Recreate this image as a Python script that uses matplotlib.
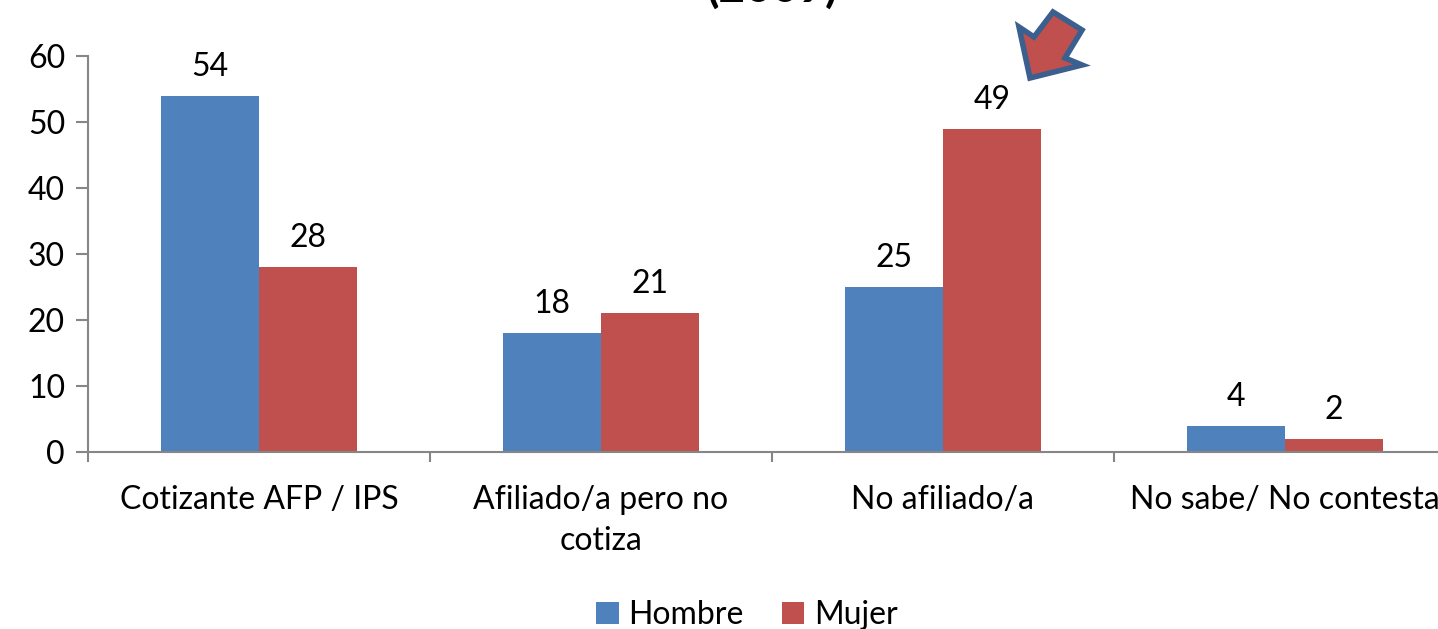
import matplotlib
matplotlib.use("Agg")
import matplotlib.pyplot as plt
from matplotlib.patches import Polygon
import numpy as np

categories = ["Cotizante AFP / IPS", "Afiliado/a pero no\ncotiza", "No afiliado/a", "No sabe/ No contesta"]
hombre = [54, 18, 25, 4]
mujer = [28, 21, 49, 2]
series_names = ["Hombre", "Mujer"]
title_text = "(2009)"
yticks = [0, 10, 20, 30, 40, 50, 60]

blue = "#4F81BD"
red = "#C0504D"
axis_col = "#868686"
FONT = "Lato"
FS = 23

W, H = 1438, 629
fig = plt.figure(figsize=(W / 100, H / 100), dpi=100)
ax = fig.add_axes([88 / W, (H - 452) / H, 1368 / W, 396 / H])

x = np.arange(len(categories))
bw = 0.286
b1 = ax.bar(x - bw / 2, hombre, bw, color=blue, label=series_names[0])
b2 = ax.bar(x + bw / 2, mujer, bw, color=red, label=series_names[1])

for bars in (b1, b2):
    for rect in bars:
        h = rect.get_height()
        ax.annotate(f"{h:g}", (rect.get_x() + rect.get_width() / 2, h),
                    xytext=(0, 14), textcoords="offset pixels",
                    ha="center", va="bottom", fontsize=FS, family=FONT, color="black")

ax.set_xlim(-0.5, len(categories) - 0.5)
ax.set_ylim(0, 60)
ax.set_yticks(yticks)
ax.set_xticks(x)
ax.set_xticklabels(categories, fontsize=FS, family=FONT, linespacing=1.45)
ax.set_xticks(np.arange(-0.5, len(categories), 1.0), minor=True)
ax.tick_params(axis="x", which="major", length=0, pad=24)
ax.tick_params(axis="x", which="minor", length=7, width=1.5, color=axis_col, direction="out")
ax.tick_params(axis="y", length=8.5, width=1.5, color=axis_col, pad=8, labelsize=FS)
for lbl in ax.get_yticklabels():
    lbl.set_family(FONT)
for s in ("top", "right"):
    ax.spines[s].set_visible(False)
for s in ("left", "bottom"):
    ax.spines[s].set_color(axis_col)
    ax.spines[s].set_linewidth(1.5)

leg = fig.legend(handles=[b1, b2], labels=series_names, loc="center",
                 bbox_to_anchor=(747 / W, 1 - 615 / H), ncol=2, frameon=False,
                 prop={"family": FONT, "size": FS}, handlelength=0.7, handleheight=0.7,
                 handletextpad=0.3, columnspacing=1.2)

# partially visible title at the top
fig.text(772 / W, 1 - 10 / H, title_text, ha="center", va="bottom",
         fontsize=33, fontweight="bold", family=FONT)

# block arrow annotation pointing to the Mujer / No afiliado bar
pts = [(1030, 78), (1019, 27), (1034, 37), (1053, 12), (1082, 30),
       (1065, 58), (1082, 65)]
poly = Polygon([(px / W, 1 - py / H) for px, py in pts], closed=True,
               transform=fig.transFigure, facecolor=red, edgecolor="#3B5F8E",
               linewidth=4, joinstyle="miter")
fig.patches.append(poly)

fig.savefig("out.png", dpi=100)
